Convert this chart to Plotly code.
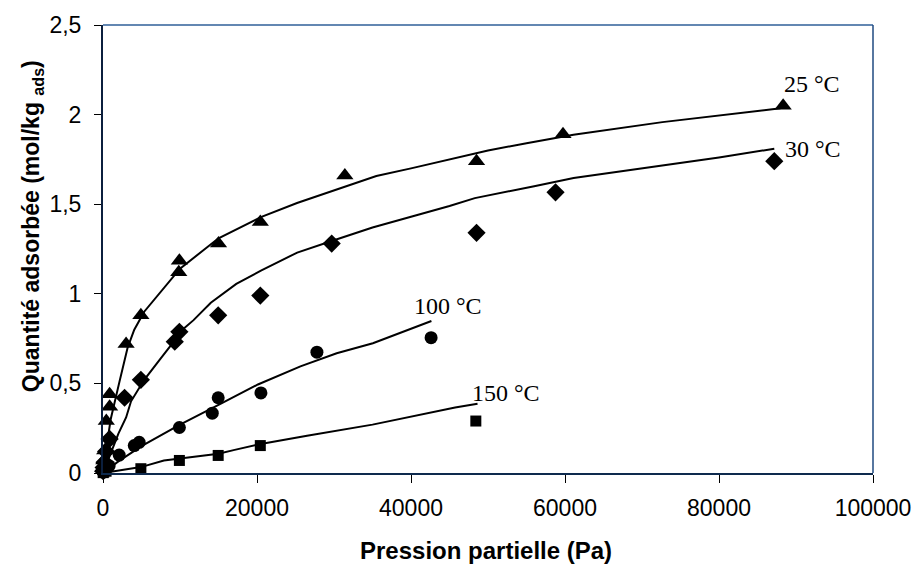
import plotly.graph_objects as go

# ---- measured points ----
t25_x = [30, 100, 220, 430, 860, 860, 3000, 4920, 9840, 9920, 15000, 20430, 31410, 48510, 59740, 88330]
t25_y = [0.03, 0.07, 0.125, 0.29, 0.37, 0.44, 0.72, 0.88, 1.12, 1.185, 1.28, 1.40, 1.66, 1.74, 1.89, 2.05]

d30_x = [20, 80, 200, 400, 860, 2800, 4920, 9320, 9920, 14960, 20430, 29700, 48510, 58770, 87180]
d30_y = [0.01, 0.03, 0.06, 0.12, 0.19, 0.42, 0.52, 0.733, 0.788, 0.88, 0.99, 1.28, 1.34, 1.566, 1.74]

c100_x = [20, 100, 300, 800, 2100, 4060, 4700, 9920, 14190, 14960, 20510, 27780, 42610]
c100_y = [0.005, 0.01, 0.02, 0.04, 0.10, 0.153, 0.171, 0.254, 0.334, 0.42, 0.447, 0.674, 0.755]

s150_x = [20, 100, 400, 4920, 9920, 14960, 20430, 48420]
s150_y = [0.002, 0.005, 0.01, 0.024, 0.07, 0.098, 0.153, 0.29]

# ---- model curves ----
f25_x = [0, 300, 1000, 1500, 2140, 3200, 4060, 5350, 7490, 10000, 15000, 20500, 25200, 30000, 35500,
         40000, 45000, 50000, 55000, 61100, 72650, 80000, 88000]
f25_y = [0, 0.10, 0.30, 0.40, 0.51, 0.70, 0.80, 0.90, 1.01, 1.14, 1.31, 1.428, 1.507, 1.575, 1.657,
         1.70, 1.75, 1.80, 1.84, 1.887, 1.958, 1.995, 2.035]

f30_x = [0, 500, 1000, 2000, 3000, 3640, 5350, 7500, 9190, 10050, 11760, 14000, 17310, 20510, 25220,
         29700, 35000, 40000, 45000, 48290, 52000, 56000, 61120, 71800, 80000, 87180]
f30_y = [0, 0.05, 0.11, 0.22, 0.31, 0.40, 0.52, 0.64, 0.733, 0.79, 0.853, 0.95, 1.055, 1.129, 1.23,
         1.295, 1.37, 1.43, 1.49, 1.534, 1.565, 1.60, 1.646, 1.709, 1.76, 1.81]

f100_x = [0, 2000, 5000, 7900, 10000, 15000, 20120, 25640, 30350, 35050, 42650]
f100_y = [0, 0.065, 0.15, 0.218, 0.27, 0.38, 0.494, 0.595, 0.668, 0.724, 0.848]

f150_x = [0, 4920, 7910, 10000, 15000, 17100, 20120, 26500, 35000, 45730, 48640]
f150_y = [0, 0.033, 0.07, 0.08, 0.108, 0.129, 0.159, 0.208, 0.27, 0.365, 0.387]

# ---- labels ----
curve_labels = ["25 °C", "30 °C", "100 °C", "150 °C"]
label_x = [92100, 92270, 44830, 52360]
label_y = [2.17, 1.81, 0.93, 0.447]

x_tickvals = [0, 20000, 40000, 60000, 80000, 100000]
x_ticktext = ["0", "20000", "40000", "60000", "80000", "100000"]
y_tickvals = [0, 0.5, 1, 1.5, 2, 2.5]
y_ticktext = ["0", "0,5", "1", "1,5", "2", "2,5"]

fig = go.Figure()
for fx, fy in [(f25_x, f25_y), (f30_x, f30_y), (f100_x, f100_y), (f150_x, f150_y)]:
    fig.add_trace(go.Scatter(x=fx, y=fy, mode="lines", line=dict(color="black", width=2),
                             showlegend=False, hoverinfo="skip"))

for px, py, sym, sz in [(t25_x, t25_y, "triangle-up", 15), (d30_x, d30_y, "diamond", 14),
                        (c100_x, c100_y, "circle", 13), (s150_x, s150_y, "square", 11)]:
    fig.add_trace(go.Scatter(x=px, y=py, mode="markers",
                             marker=dict(symbol=sym, size=sz, color="black", line=dict(width=0)),
                             showlegend=False, cliponaxis=False))

for t, lx, ly in zip(curve_labels, label_x, label_y):
    fig.add_annotation(x=lx, y=ly, text=t, showarrow=False, xanchor="center", yanchor="middle",
                       font=dict(family="Liberation Serif", size=24, color="black"))

fig.add_annotation(xref="paper", yref="paper", x=0.497, y=-0.174, text="<b>Pression partielle (Pa)</b>",
                   showarrow=False, xanchor="center", yanchor="middle",
                   font=dict(family="Liberation Sans", size=24, color="black"))
fig.add_annotation(xref="paper", yref="paper", x=-0.0915, y=0.55,
                   text="<b>Quantité adsorbée (mol/kg <sub>ads</sub>)</b>",
                   showarrow=False, textangle=-90, xanchor="center", yanchor="middle",
                   font=dict(family="Liberation Sans", size=23, color="black"))

# top and right frame lines
fig.add_shape(type="line", xref="paper", yref="paper", x0=0, x1=1, y0=1, y1=1,
              line=dict(color="#2f5f98", width=1.5))
fig.add_shape(type="line", xref="paper", yref="paper", x0=1, x1=1, y0=0, y1=1,
              line=dict(color="#1f4a80", width=1.5))

fig.update_layout(
    width=923, height=565,
    margin=dict(l=103, r=41, t=20, b=92),
    paper_bgcolor="white", plot_bgcolor="white",
    font=dict(family="Liberation Sans", color="black"),
    xaxis=dict(range=[0, 100000], tickvals=x_tickvals, ticktext=x_ticktext,
               showgrid=False, zeroline=False, showline=True, linecolor="#0e2a4e", linewidth=2,
               ticks="outside", ticklen=8, tickwidth=1, tickcolor="black",
               tickfont=dict(size=23, family="Liberation Sans"), ticklabelstandoff=5),
    yaxis=dict(range=[0, 2.5], tickvals=y_tickvals, ticktext=y_ticktext,
               showgrid=False, zeroline=False, showline=True, linecolor="#0b1f3d", linewidth=2,
               ticks="outside", ticklen=7, tickwidth=1, tickcolor="black",
               tickfont=dict(size=23, family="Liberation Sans"), ticklabelstandoff=8),
)

fig.write_html("out.html")
